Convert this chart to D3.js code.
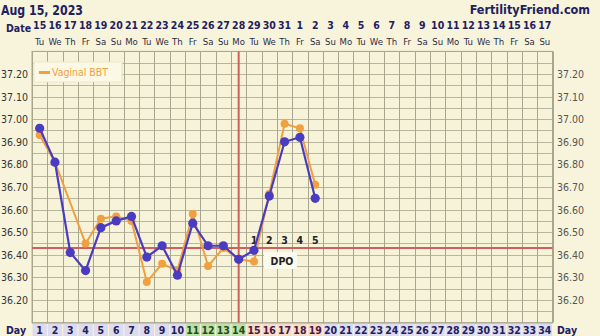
<!DOCTYPE html>
<html><head><meta charset="utf-8">
<script src="https://cdn.jsdelivr.net/npm/d3@7"></script>
<style>
html,body{margin:0;padding:0;background:#f8f4dc;overflow:hidden}
svg{display:block}
text{font-family:"DejaVu Sans",Verdana,sans-serif}
.cond{font-family:"DejaVu Sans Condensed","DejaVu Sans",sans-serif;font-stretch:condensed}
</style></head><body>
<svg id="c" width="600" height="336"></svg>
<script>
const title = "Aug 15, 2023";
const site = "FertilityFriend.com";
const days = [1,2,3,4,5,6,7,8,9,10,11,12,13,14,15,16,17,18,19,20,21,22,23,24,25,26,27,28,29,30,31,32,33,34];
const dates = ["15","16","17","18","19","20","21","22","23","24","25","26","27","28","29","30","31","1","2","3","4","5","6","7","8","9","10","11","12","13","14","15","16","17"];
const weekdays = ["Tu","We","Th","Fr","Sa","Su","Mo","Tu","We","Th","Fr","Sa","Su","Mo","Tu","We","Th","Fr","Sa","Su","Mo","Tu","We","Th","Fr","Sa","Su","Mo","Tu","We","Th","Fr","Sa","Su"];
const bbt = [36.96,36.81,36.41,36.33,36.52,36.55,36.57,36.39,36.44,36.31,36.54,36.44,36.44,36.38,36.42,36.66,36.90,36.92,36.65];
const vaginalBBT = [36.93,36.81,null,36.45,36.56,36.57,36.55,36.28,36.36,36.33,36.58,36.35,36.43,36.38,36.37,36.67,36.98,36.96,36.71];
const tempTicks = [36.20,36.30,36.40,36.50,36.60,36.70,36.80,36.90,37.00,37.10,37.20];
const coverline = 36.43;
const ovulationDay = 14;
const fertileDays = [11,12,13,14];
const lutealDays = [15,16,17,18,19];
const dpoLabels = ["1","2","3","4","5"];

const svg = d3.select("#c");
const L = 32, R = 552.5, T = 51.4, B = 322.6;
const x = d3.scaleBand().domain(days).range([L, R]);
const cx = d => x(d) + x.bandwidth()/2;
const y = d3.scaleLinear().domain([36.10, 37.30]).range([B, T]);

const navy = "#1f2060";
svg.append("rect").attr("x",L).attr("y",T).attr("width",R-L).attr("height",B-T).attr("fill","#f7f3d8");

// grid
const gridG = svg.append("g");
const hLines = d3.range(0, 25).map(i => 36.10 + i*0.05);
gridG.selectAll("line.h").data(hLines).join("line")
  .attr("x1",L).attr("x2",R).attr("y1",d=>Math.round(y(d))+0.5).attr("y2",d=>Math.round(y(d))+0.5)
  .attr("stroke","#b9b69e").attr("stroke-width",1);
gridG.selectAll("line.v").data(days.concat([35])).join("line")
  .attr("x1",(d,i)=>Math.round(L + i*x.bandwidth())+0.5).attr("x2",(d,i)=>Math.round(L + i*x.bandwidth())+0.5)
  .attr("y1",T).attr("y2",B).attr("stroke","#a9a690").attr("stroke-width",1);
svg.append("rect").attr("x",L).attr("y",T).attr("width",R-L).attr("height",B-T)
  .attr("fill","none").attr("stroke","#a9a690");

// header
svg.append("text").attr("x",1).attr("y",15).attr("font-size",14).attr("font-weight","bold").attr("fill",navy)
  .attr("textLength",82).attr("lengthAdjust","spacingAndGlyphs").text(title);
svg.append("text").attr("class","cond").attr("x",590).attr("y",14).attr("text-anchor","end").attr("font-size",12.5).attr("font-weight","bold").attr("fill",navy)
  .text(site);
svg.append("text").attr("class","cond").attr("x",6).attr("y",32).attr("font-size",10.5).attr("font-weight","bold").attr("fill",navy).text("Date");
svg.append("g").attr("class","cond").selectAll("text").data(days).join("text")
  .attr("x",d=>cx(d)).attr("y",29).attr("text-anchor","middle").attr("font-size",10.5).attr("font-weight","bold").attr("fill",navy)
  .text((d,i)=>dates[i]);
svg.append("g").attr("class","cond").selectAll("text").data(days).join("text")
  .attr("x",d=>cx(d)).attr("y",45).attr("text-anchor","middle").attr("font-size",9.5).attr("fill","#2c2c44")
  .text((d,i)=>weekdays[i]);

// temperature labels both sides
const tl = svg.append("g").attr("class","cond");
tl.selectAll("text.l").data(tempTicks).join("text").attr("class","l")
  .attr("x",1).attr("y",d=>y(d)+4).attr("font-size",10.5).attr("fill","#333").text(d=>d.toFixed(2));
tl.selectAll("text.r").data(tempTicks).join("text").attr("class","r")
  .attr("x",557).attr("y",d=>y(d)+4).attr("font-size",10.5).attr("fill","#555").text(d=>d.toFixed(2));

// day row
const phaseFill = d => fertileDays.includes(d) ? "#bfe0a6" : lutealDays.includes(d) ? "#f6dcca" : "#dcdcee";
const phaseText = d => fertileDays.includes(d) ? "#1e4d1e" : lutealDays.includes(d) ? "#4a1840" : navy;
svg.append("g").selectAll("rect").data(days).join("rect")
  .attr("x",d=>x(d)+0.5).attr("y",B+1).attr("width",x.bandwidth()-1).attr("height",336-B)
  .attr("fill",phaseFill);
svg.append("g").attr("class","cond").selectAll("text").data(days).join("text")
  .attr("x",d=>cx(d)).attr("y",334).attr("text-anchor","middle").attr("font-size",10.5).attr("font-weight","bold")
  .attr("fill",phaseText).text(d=>d);
svg.append("text").attr("class","cond").attr("x",6).attr("y",334).attr("font-size",10.5).attr("font-weight","bold").attr("fill",navy).text("Day");
svg.append("text").attr("class","cond").attr("x",557).attr("y",334).attr("font-size",10.5).attr("font-weight","bold").attr("fill",navy).text("Day");

// coverline & ovulation
const red = "#d0605c";
svg.append("line").attr("x1",L).attr("x2",R).attr("y1",y(coverline)).attr("y2",y(coverline)).attr("stroke",red).attr("stroke-width",2);
svg.append("line").attr("x1",cx(ovulationDay)).attr("x2",cx(ovulationDay)).attr("y1",T).attr("y2",B).attr("stroke",red).attr("stroke-width",2);

// DPO
svg.append("rect").attr("x",264).attr("y",252).attr("width",33).attr("height",17).attr("fill","#fcfaec");
svg.append("g").attr("class","cond").selectAll("text").data(lutealDays).join("text")
  .attr("x",d=>cx(d)).attr("y",244).attr("text-anchor","middle").attr("font-size",10.5).attr("font-weight","bold").attr("fill","#222")
  .text((d,i)=>dpoLabels[i]);
svg.append("text").attr("class","cond").attr("x",282).attr("y",265).attr("text-anchor","middle").attr("font-size",10.5).attr("font-weight","bold").attr("fill","#222").text("DPO");

// series
const orange = "#f0a040", purple = "#4a3cc0";
const vData = vaginalBBT.map((v,i)=>({d:days[i],v})).filter(p=>p.v!==null);
const bData = bbt.map((v,i)=>({d:days[i],v}));
const line = d3.line().x(p=>cx(p.d)).y(p=>y(p.v));
svg.append("path").datum(vData).attr("d",line).attr("fill","none").attr("stroke",orange).attr("stroke-width",2);
svg.append("g").selectAll("circle").data(vData).join("circle").attr("cx",p=>cx(p.d)).attr("cy",p=>y(p.v)).attr("r",4).attr("fill",orange);
svg.append("path").datum(bData).attr("d",line).attr("fill","none").attr("stroke",purple).attr("stroke-width",2.2);
svg.append("g").selectAll("circle").data(bData).join("circle").attr("cx",p=>cx(p.d)).attr("cy",p=>y(p.v)).attr("r",4.6).attr("fill",purple);

// legend
svg.append("rect").attr("x",34).attr("y",62).attr("width",88).attr("height",20).attr("fill","#fbf8e6").attr("stroke","#ece7c8");
svg.append("line").attr("x1",39).attr("x2",50).attr("y1",72.5).attr("y2",72.5).attr("stroke",orange).attr("stroke-width",3);
svg.append("text").attr("x",52).attr("y",76).attr("font-size",10).attr("fill",orange)
  .attr("textLength",56).attr("lengthAdjust","spacingAndGlyphs").text("Vaginal BBT");
</script></body></html>
